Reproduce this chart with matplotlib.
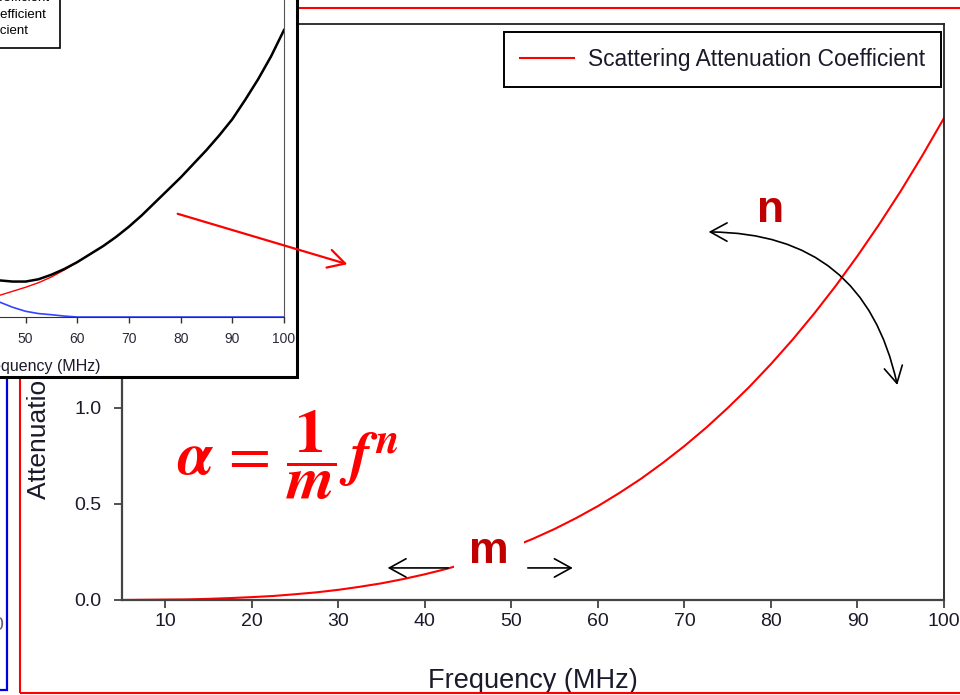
import matplotlib.pyplot as plt
from matplotlib.patches import Rectangle, FancyArrowPatch

plt.rcParams['font.family'] = ['Liberation Sans', 'DejaVu Sans']

W, H = 960, 695

# Scattering attenuation coefficient (main plot)
freq = [5, 7.5, 10, 12.5, 15, 17.5, 20, 22.5, 25, 27.5, 30, 32.5, 35, 37.5, 40, 42.5,
        45, 47.5, 50, 52.5, 55, 57.5, 60, 62.5, 65, 67.5, 70, 72.5, 75, 77.5, 80,
        82.5, 85, 87.5, 90, 92.5, 95, 97.5, 100]
scattering = [0.000, 0.001, 0.002, 0.003, 0.006, 0.010, 0.015, 0.021, 0.030, 0.040,
              0.053, 0.069, 0.087, 0.109, 0.134, 0.162, 0.195, 0.232, 0.273, 0.319,
              0.370, 0.427, 0.489, 0.558, 0.632, 0.714, 0.802, 0.897, 1.000, 1.110,
              1.229, 1.356, 1.492, 1.637, 1.792, 1.956, 2.130, 2.315, 2.510]

# Earlier figure pasted on top (total = absorption + scattering)
inset_freq = [40, 42.5, 45, 47.5, 50, 52.5, 55, 57.5, 60, 62.5, 65, 67.5, 70,
              72.5, 75, 77.5, 80, 82.5, 85, 87.5, 90, 92.5, 95, 97.5, 100]
inset_absorption = [0.22, 0.17, 0.13, 0.085, 0.05, 0.03, 0.02, 0.008, 0.0, 0.0, 0.0, 0.0, 0.0,
                    0.0, 0.0, 0.0, 0.0, 0.0, 0.0, 0.0, 0.0, 0.0, 0.0, 0.0, 0.0]
inset_scattering = [0.14, 0.165, 0.19, 0.225, 0.26, 0.30, 0.35, 0.412, 0.48, 0.55, 0.62, 0.70, 0.79,
                    0.89, 1.00, 1.11, 1.22, 1.34, 1.46, 1.59, 1.73, 1.90, 2.08, 2.28, 2.51]
inset_total = [0.36, 0.335, 0.32, 0.31, 0.31, 0.33, 0.37, 0.42, 0.48, 0.55, 0.62, 0.70, 0.79,
               0.89, 1.00, 1.11, 1.22, 1.34, 1.46, 1.59, 1.73, 1.90, 2.08, 2.28, 2.51]

x_ticks = [10, 20, 30, 40, 50, 60, 70, 80, 90, 100]
y_ticks = [0.0, 0.5, 1.0, 1.5, 2.0, 2.5, 3.0]
inset_ticks = [10, 20, 30, 40, 50, 60, 70, 80, 90, 100]


def fx(x, y):
    """pixel position (from top-left) -> figure fraction"""
    return x / W, 1 - y / H


fig = plt.figure(figsize=(W / 100, H / 100), dpi=100)

# ---- main axes ----
ax = fig.add_axes([122 / W, (H - 600) / H, 822 / W, 576 / H])
ax.plot(freq, scattering, color='#ff0000', lw=1.5, label='Scattering Attenuation Coefficient')
ax.set_xlim(5, 100)
ax.set_ylim(0, 3.0)
ax.set_xticks(x_ticks)
ax.set_yticks(y_ticks)
ax.set_yticklabels([f'{v:.1f}' for v in y_ticks])
ax.tick_params(direction='out', length=6, width=1.2, labelsize=14,
               color='#333333', labelcolor='#1a1a2a', top=False, right=False)
ax.tick_params(axis='x', pad=3.5)
ax.tick_params(axis='y', pad=9)
for side in ['left', 'bottom']:
    ax.spines[side].set_linewidth(1.6)
    ax.spines[side].set_color('#444444')
for side in ['top', 'right']:
    ax.spines[side].set_linewidth(1.3)
    ax.spines[side].set_color('#222222')

ax.set_xlabel('Frequency (MHz)', fontsize=19.5, color='#1a1a2a')
ax.xaxis.set_label_coords(0.5, -(668 - 600) / 576)
ax.set_ylabel('Attenuation Coefficient (dB/mm)', fontsize=19, color='#1a1a2a')
ax.yaxis.set_label_coords((51 - 122) / 822, 0.5)

leg = ax.legend(loc='upper right', bbox_to_anchor=fx(941, 32), bbox_transform=fig.transFigure,
                borderaxespad=0, fontsize=16.4, fancybox=False, edgecolor='black', framealpha=1,
                handlelength=2.4, handletextpad=0.6, borderpad=0.7)
leg.get_frame().set_linewidth(1.4)
for t in leg.get_texts():
    t.set_color('#1a1a2a')

# equation and the m / n hints
ax.text(24.2, 0.755,
        r'$\mathbfit{\alpha}\,=\,\dfrac{\mathbf{1}}{\mathbfit{m}}\,\mathbfit{f}^{\,\mathbfit{n}}$',
        fontsize=44, color='#ff0000', ha='center', va='center', math_fontfamily='stix')
ax.text(79.9, 2.03, 'n', fontsize=32, fontweight='bold', color='#c00000',
        ha='center', va='center')
ax.text(47.4, 0.255, 'm', fontsize=32, fontweight='bold', color='#c00000',
        ha='center', va='center', zorder=4,
        bbox=dict(boxstyle='square,pad=0.35', fc='white', ec='none'))

head = '->, head_length=0.6, head_width=0.33'
ax.annotate('', xy=(35.7, 0.167), xytext=(42.7, 0.167), zorder=5,
            arrowprops=dict(arrowstyle=head, color='black', lw=1.2, mutation_scale=20,
                            shrinkA=0, shrinkB=0))
ax.annotate('', xy=(57.1, 0.167), xytext=(51.9, 0.167), zorder=5,
            arrowprops=dict(arrowstyle=head, color='black', lw=1.2, mutation_scale=20,
                            shrinkA=0, shrinkB=0))
ax.annotate('', xy=(94.6, 1.12), xytext=(72.8, 1.917), zorder=5,
            arrowprops=dict(arrowstyle='<->, head_length=0.6, head_width=0.33', color='black',
                            lw=1.2, mutation_scale=20, shrinkA=0, shrinkB=0,
                            connectionstyle='arc3,rad=-0.4'))

# ---- slide frames behind the pasted figure ----
fig.add_artist(Rectangle(fx(20, 693), (990 - 20) / W, (693 - 8) / H, transform=fig.transFigure,
                         fill=False, ec='#ff0000', lw=1.5, zorder=1))
fig.add_artist(Rectangle(fx(-100, 690), 107 / W, (690 - 300) / H, transform=fig.transFigure,
                         fill=False, ec='#0000dd', lw=1.6, zorder=1))
fig.text(3 / W, 1 - 625 / H, '0', ha='right', va='center', fontsize=14, color='#6a5a7a')

# ---- pasted figure (top-left) ----
fig.add_artist(Rectangle(fx(-20, 377), 317 / W, 397 / H, transform=fig.transFigure,
                         fc='white', ec='black', lw=2.2, zorder=2))

ins = fig.add_axes([-207 / W, (H - 317) / H, 491 / W, 343 / H])
ins.set_zorder(3)
ins.plot(inset_freq, inset_absorption, color='#3344ff', lw=1.2, label='Absorption Attenuation Coefficient')
ins.plot(inset_freq, inset_scattering, color='#ff0000', lw=1.0, label='Scattering Attenuation Coefficient')
ins.plot(inset_freq, inset_total, color='black', lw=1.8, label='Overall Attenuation Coefficient')
ins.set_xlim(5, 100)
ins.set_ylim(0, 3.0)
ins.set_xticks(inset_ticks)
ins.tick_params(direction='out', length=4, width=1, labelsize=10, pad=7, color='#333333',
                labelcolor='#2a2a3a', top=False, right=False)
ins.spines['right'].set_color('#555555')
ins.spines['bottom'].set_color('#333333')
ins.set_xlabel('Frequency (MHz)', fontsize=11.5, color='#1a1a2a')
ins.xaxis.set_label_coords(0.5, -(359 - 317) / 343)

ileg = ins.legend(loc='lower right', bbox_to_anchor=fx(60, 48), bbox_transform=fig.transFigure,
                  borderaxespad=0, fontsize=9.5, fancybox=False, edgecolor='black',
                  framealpha=1, labelspacing=0.35, borderpad=0.8)
ileg.get_frame().set_linewidth(1.2)

# arrow from the pasted figure into the main plot
fig.add_artist(FancyArrowPatch(fx(175, 213), fx(350, 265), transform=fig.transFigure,
                               arrowstyle='->, head_length=0.6, head_width=0.33',
                               color='#ff0000', lw=1.6, mutation_scale=20, zorder=5))

fig.savefig('out.png', dpi=100)
